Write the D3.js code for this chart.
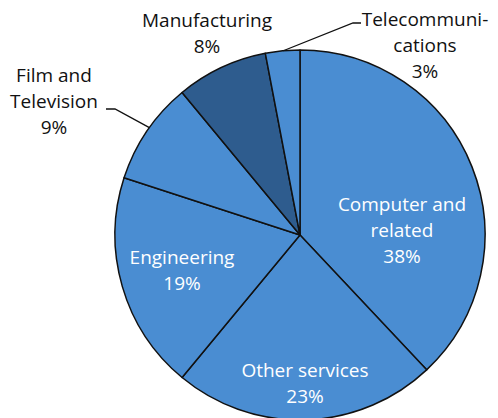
<!DOCTYPE html>
<html><head><meta charset="utf-8">
<script src="https://cdn.jsdelivr.net/npm/d3@7"></script>
<style>html,body{margin:0;padding:0;background:#fff;}</style>
</head><body>
<svg id="chart" width="498" height="418"></svg>
<script>
const categories = ["Computer and related","Other services","Engineering","Film and Television","Manufacturing","Telecommunications"];
const values = [38, 23, 19, 9, 8, 3];
const labelLines = [["Computer and","related","38%"],["Other services","23%"],["Engineering","19%"],["Film and","Television","9%"],["Manufacturing","8%"],["Telecommuni-","cations","3%"]];
const fills = ["#4a8dd2","#4a8dd2","#4a8dd2","#4a8dd2","#2e5c8e","#4a8dd2"];

const svg = d3.select("#chart");
const cx = 300, cy = 235, R = 185;
const g = svg.append("g").attr("transform", `translate(${cx},${cy})`);
const pie = d3.pie().sort(null).value(d => d);
const arcs = pie(values);
const arc = d3.arc().innerRadius(0).outerRadius(R);
g.selectAll("path").data(arcs).enter().append("path")
  .attr("d", arc).attr("fill", (d,i) => fills[i])
  .attr("stroke", "#111").attr("stroke-width", 1.5).attr("stroke-linejoin","round");

const font = "'Open Sans', sans-serif";
const labelPos = [
  {x: 402, y: 211, c: "#fff"},
  {x: 305, y: 377, c: "#fff"},
  {x: 182, y: 264, c: "#fff"},
  {x: 54, y: 82, c: "#111"},
  {x: 207, y: 27, c: "#111"},
  {x: 425, y: 26, c: "#111"}
];
const lh = 26;
labelLines.forEach((lines, i) => {
  const p = labelPos[i];
  const t = svg.append("text").attr("text-anchor","middle")
    .attr("font-family", font).attr("font-size", 19).attr("fill", p.c);
  lines.forEach((s, j) => t.append("tspan").attr("x", p.x).attr("y", p.y + j*lh).text(s));
});

const leader = d3.line();
function edgePoint(idx, frac){
  const a = arcs[idx].startAngle + (arcs[idx].endAngle - arcs[idx].startAngle)*frac;
  return [cx + Math.sin(a)*R, cy - Math.cos(a)*R];
}
const filmPt = edgePoint(3, 0.54);
const telPt = edgePoint(5, 0.52);
svg.append("path").attr("d", leader([[106,109],[115,109],filmPt]))
  .attr("fill","none").attr("stroke","#111").attr("stroke-width",1.3);
svg.append("path").attr("d", leader([telPt,[353,23],[361,23]]))
  .attr("fill","none").attr("stroke","#111").attr("stroke-width",1.3);
</script>
</body></html>
